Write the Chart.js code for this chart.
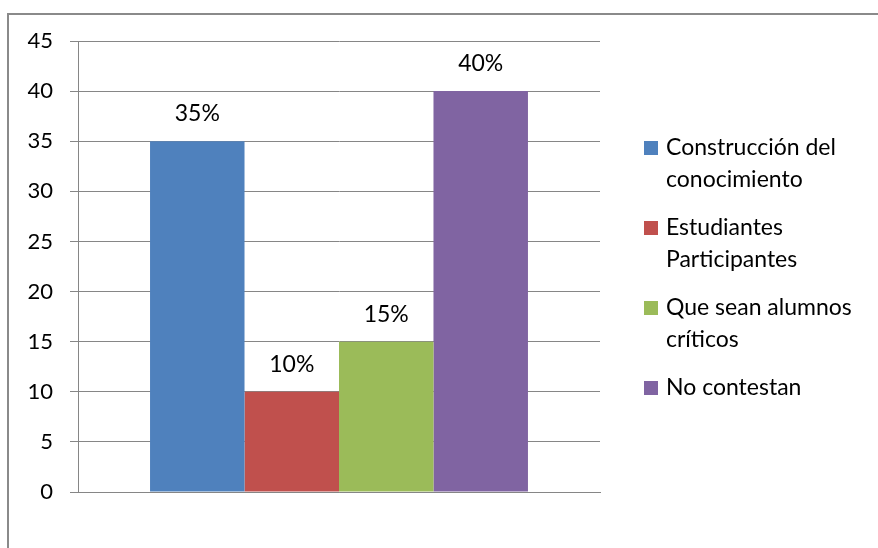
<!DOCTYPE html>
<html>
<head>
<meta charset="utf-8">
<script src="https://cdn.jsdelivr.net/npm/chart.js@4.4.0/dist/chart.umd.min.js"></script>
<style>
  html, body { margin: 0; padding: 0; background: #fff; }
  #wrap { position: relative; width: 878px; height: 548px; }
</style>
</head>
<body>
<div id="wrap"><canvas id="grafico" width="878" height="548"></canvas></div>
<script>
const categorias = [''];
const series = ['Construcción del\nconocimiento', 'Estudiantes\nParticipantes', 'Que sean alumnos\ncríticos', 'No contestan'];
const valores = [35, 10, 15, 40];
const etiquetas = ['35%', '10%', '15%', '40%'];
const colores = ['#4F81BD', '#C0504D', '#9BBB59', '#8064A2'];
const ticksY = { min: 0, max: 45, paso: 5 };

const fuente = 'Lato, "Liberation Sans", sans-serif';
const gris = '#868686';

// marco exterior (solo arriba e izquierda, como en la imagen recortada)
const marco = {
  id: 'marco',
  beforeDraw(chart) {
    const ctx = chart.ctx;
    ctx.save();
    ctx.strokeStyle = '#8a8a8a';
    ctx.lineWidth = 2;
    ctx.beginPath();
    ctx.moveTo(8, chart.height);
    ctx.lineTo(8, 14);
    ctx.lineTo(chart.width, 14);
    ctx.stroke();
    ctx.restore();
  }
};

// porcentajes encima de cada barra
const porcentajes = {
  id: 'porcentajes',
  afterDatasetsDraw(chart) {
    const ctx = chart.ctx;
    ctx.save();
    ctx.font = '23px ' + fuente;
    ctx.fillStyle = '#000';
    ctx.textAlign = 'center';
    ctx.textBaseline = 'bottom';
    chart.data.datasets.forEach((ds, i) => {
      const bar = chart.getDatasetMeta(i).data[0];
      ctx.fillText(etiquetas[i], bar.x, bar.y - 16);
    });
    ctx.restore();
  }
};

// leyenda a la derecha con texto en dos lineas
const leyenda = {
  id: 'leyenda',
  afterDraw(chart) {
    const ctx = chart.ctx;
    ctx.save();
    ctx.font = '23px ' + fuente;
    ctx.textBaseline = 'middle';
    ctx.textAlign = 'left';
    chart.data.datasets.forEach((ds, i) => {
      const y0 = 148 + i * 80;
      ctx.fillStyle = ds.backgroundColor;
      ctx.fillRect(644, y0 - 7, 14, 14);
      ctx.fillStyle = '#000';
      ds.label.split('\n').forEach((linea, j) => {
        ctx.fillText(linea, 666, y0 + j * 32);
      });
    });
    ctx.restore();
  }
};

new Chart(document.getElementById('grafico'), {
  type: 'bar',
  data: {
    labels: categorias,
    datasets: series.map((s, i) => ({
      label: s,
      data: [valores[i]],
      backgroundColor: colores[i],
      borderWidth: 0,
      categoryPercentage: 0.724,
      barPercentage: 1
    }))
  },
  options: {
    responsive: false,
    animation: false,
    layout: { padding: { left: 10, top: 41, right: 278, bottom: 56 } },
    plugins: {
      legend: { display: false },
      tooltip: { enabled: false }
    },
    scales: {
      x: {
        grid: { display: false },
        ticks: { display: false },
        border: { color: gris, width: 1 },
        afterFit(scale) { scale.height = 0; }
      },
      y: {
        min: ticksY.min,
        max: ticksY.max,
        ticks: {
          stepSize: ticksY.paso,
          color: '#000',
          font: { family: fuente, size: 22 },
          padding: 17
        },
        grid: { color: gris, lineWidth: 1, tickLength: 8 },
        border: { color: gris, width: 1 },
        afterFit(scale) { scale.width = 68; }
      }
    }
  },
  plugins: [marco, porcentajes, leyenda]
});
</script>
</body>
</html>
